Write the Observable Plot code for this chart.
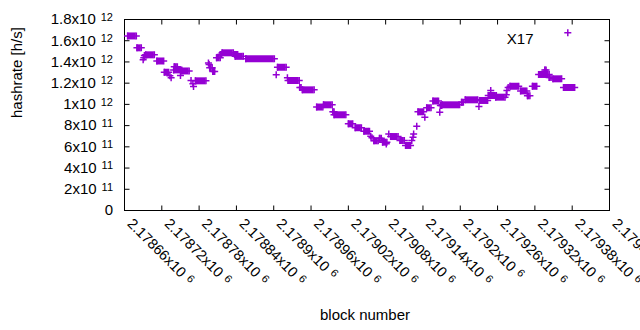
<!DOCTYPE html>
<html><head><meta charset="utf-8">
<script src="https://cdn.jsdelivr.net/npm/d3@7"></script>
<script src="https://cdn.jsdelivr.net/npm/@observablehq/plot@0.6"></script>
<style>
html,body{margin:0;padding:0;background:#fff;overflow:hidden;width:640px;height:330px}
</style>
</head><body><div id="chart"></div>
<script>
const seriesName = "X17";
const xTitle = "block number";
const yTitle = "hashrate [h/s]";
// runs of consecutive blocks with the same hashrate: [first block, last block, hashrate]
const runs = [
  [2178665, 2178679, 1.645e12],
  [2178680, 2178687, 1.533e12],
  [2178694, 2178708, 1.467e12],
  [2178712, 2178723, 1.409e12],
  [2178724, 2178731, 1.303e12],
  [2178739, 2178752, 1.325e12],
  [2178740, 2178745, 1.355e12],
  [2178752, 2178764, 1.315e12],
  [2178774, 2178791, 1.222e12],
  [2178797, 2178801, 1.345e12],
  [2178802, 2178805, 1.31e12],
  [2178808, 2178814, 1.439e12],
  [2178814, 2178816, 1.47e12],
  [2178817, 2178835, 1.486e12],
  [2178837, 2178842, 1.47e12],
  [2178838, 2178851, 1.453e12],
  [2178855, 2178901, 1.43e12],
  [2178906, 2178920, 1.35e12],
  [2178923, 2178941, 1.225e12],
  [2178942, 2178944, 1.16e12],
  [2178946, 2178965, 1.137e12],
  [2178969, 2178979, 0.975e12],
  [2178980, 2178994, 0.996e12],
  [2178995, 2178997, 0.93e12],
  [2178997, 2179016, 0.902e12],
  [2179020, 2179027, 0.817e12],
  [2179031, 2179041, 0.78e12],
  [2179045, 2179054, 0.747e12],
  [2179061, 2179068, 0.657e12],
  [2179070, 2179073, 0.68e12],
  [2179075, 2179082, 0.644e12],
  [2179088, 2179100, 0.697e12],
  [2179103, 2179110, 0.66e12],
  [2179112, 2179120, 0.613e12],
  [2179132, 2179141, 0.93e12],
  [2179146, 2179153, 0.968e12],
  [2179156, 2179165, 1.032e12],
  [2179168, 2179170, 0.99e12],
  [2179171, 2179199, 0.996e12],
  [2179202, 2179205, 1.021e12],
  [2179208, 2179228, 1.043e12],
  [2179231, 2179244, 1.037e12],
  [2179245, 2179258, 1.084e12],
  [2179257, 2179272, 1.068e12],
  [2179280, 2179294, 1.171e12],
  [2179297, 2179307, 1.127e12],
  [2179308, 2179312, 1.081e12],
  [2179316, 2179323, 1.171e12],
  [2179326, 2179343, 1.282e12],
  [2179336, 2179338, 1.325e12],
  [2179343, 2179346, 1.253e12],
  [2179349, 2179363, 1.241e12],
  [2179366, 2179384, 1.159e12]
];
// isolated blocks: [block, hashrate]
const points = [
  [2178690, 1.42e12], [2178691, 1.44e12], [2178692, 1.46e12],
  [2178733, 1.27e12], [2178735, 1.25e12],
  [2178750, 1.272e12],
  [2178767, 1.225e12], [2178770, 1.194e12], [2178771, 1.168e12],
  [2178795, 1.39e12], [2178796, 1.375e12],
  [2178904, 1.279e12],
  [2178922, 1.25e12],
  [2179056, 0.7e12], [2179058, 0.685e12],
  [2179081, 0.628e12],
  [2179085, 0.72e12],
  [2179122, 0.66e12], [2179124, 0.69e12], [2179125, 0.72e12], [2179130, 0.794e12],
  [2179143, 0.879e12],
  [2179167, 0.926e12],
  [2179230, 0.98e12],
  [2179249, 1.131e12],
  [2179274, 1.09e12], [2179275, 1.13e12], [2179277, 1.16e12]
];
const xTicks = [2178660, 2178720, 2178780, 2178840, 2178900, 2178960, 2179020, 2179080, 2179140, 2179200, 2179260, 2179320, 2179380, 2179440];
const xTickLabels = ["2.17866x10^6", "2.17872x10^6", "2.17878x10^6", "2.17884x10^6", "2.1789x10^6", "2.17896x10^6", "2.17902x10^6", "2.17908x10^6", "2.17914x10^6", "2.1792x10^6", "2.17926x10^6", "2.17932x10^6", "2.17938x10^6", "2.17944x10^6"];
const yTicks = [0, 2e11, 4e11, 6e11, 8e11, 1e12, 1.2e12, 1.4e12, 1.6e12, 1.8e12];
const yTickLabels = ["0", "2x10^11", "4x10^11", "6x10^11", "8x10^11", "1x10^12", "1.2x10^12", "1.4x10^12", "1.6x10^12", "1.8x10^12"];

const purple = "#9400d3";
const runEnds = runs.flatMap(([a, b, v]) => [[a, v], [b, v]]);
const tickSym = (dx, dy) => ({draw(ctx) { ctx.moveTo(0, 0); ctx.lineTo(dx, dy); }});
const TL = 5;
const PR = 2.4;

const chart = Plot.plot({
  width: 640, height: 330,
  marginLeft: 124, marginRight: 31, marginTop: 19, marginBottom: 120,
  style: {fontFamily: "'Liberation Sans', Arial, sans-serif", fontSize: "15px", background: "#fff", color: "#000"},
  x: {domain: [2178660, 2179440], axis: null},
  y: {domain: [0, 1.8e12], axis: null},
  marks: [
    Plot.frame({stroke: "black", strokeWidth: 1}),
    Plot.dot(yTicks, {y: d => d, frameAnchor: "left", symbol: tickSym(TL, 0), stroke: "black", fill: "none", strokeWidth: 1}),
    Plot.dot(yTicks, {y: d => d, frameAnchor: "right", symbol: tickSym(-TL, 0), stroke: "black", fill: "none", strokeWidth: 1}),
    Plot.dot(xTicks, {x: d => d, frameAnchor: "bottom", symbol: tickSym(0, -TL), stroke: "black", fill: "none", strokeWidth: 1}),
    Plot.dot(xTicks, {x: d => d, frameAnchor: "top", symbol: tickSym(0, TL), stroke: "black", fill: "none", strokeWidth: 1}),
    Plot.text(yTicks, {y: d => d, text: (d, i) => yTickLabels[i], frameAnchor: "left", textAnchor: "end", dx: -11.5, fontSize: 15, fill: "black"}),
    Plot.text(xTicks, {x: d => d, text: (d, i) => xTickLabels[i], frameAnchor: "bottom", textAnchor: "start", rotate: 45, dx: 2, dy: 14, fontSize: 14.5, fill: "black"}),
    Plot.text([xTitle], {text: d => d, frameAnchor: "bottom", dx: -2, dy: 109, fontSize: 15, fill: "black"}),
    Plot.text([yTitle], {text: d => d, frameAnchor: "left", rotate: -90, dx: -107, dy: 3, fontSize: 15, fill: "black"}),
    Plot.ruleY(runs, {y: d => d[2], x1: d => d[0], x2: d => d[1], stroke: purple, strokeWidth: 7}),
    Plot.dot(runEnds, {x: d => d[0], y: d => d[1], symbol: "plus", r: PR, stroke: purple, strokeWidth: 1.5}),
    Plot.dot(points, {x: d => d[0], y: d => d[1], symbol: "plus", r: PR, stroke: purple, strokeWidth: 1.5}),
    Plot.text([seriesName], {text: d => d, frameAnchor: "top-right", textAnchor: "end", dx: -76, dy: 13.5, fontSize: 15, fill: "black"}),
    Plot.dot([seriesName], {frameAnchor: "top-right", dx: -41.7, dy: 13.3, symbol: "plus", r: PR, stroke: purple, strokeWidth: 1.5})
  ]
});

const ns = "http://www.w3.org/2000/svg";
chart.querySelectorAll("text").forEach(t => {
  const s = t.textContent;
  if (!s.includes("^")) return;
  const [m, e] = s.split("^");
  t.textContent = "";
  const a = document.createElementNS(ns, "tspan");
  a.textContent = m;
  const b = document.createElementNS(ns, "tspan");
  b.textContent = e;
  b.setAttribute("dx", "5");
  b.setAttribute("dy", "-3.5");
  b.setAttribute("font-size", "11");
  t.append(a, b);
});
chart.style.overflow = "visible";
document.getElementById("chart").append(chart);
</script>
</body></html>
